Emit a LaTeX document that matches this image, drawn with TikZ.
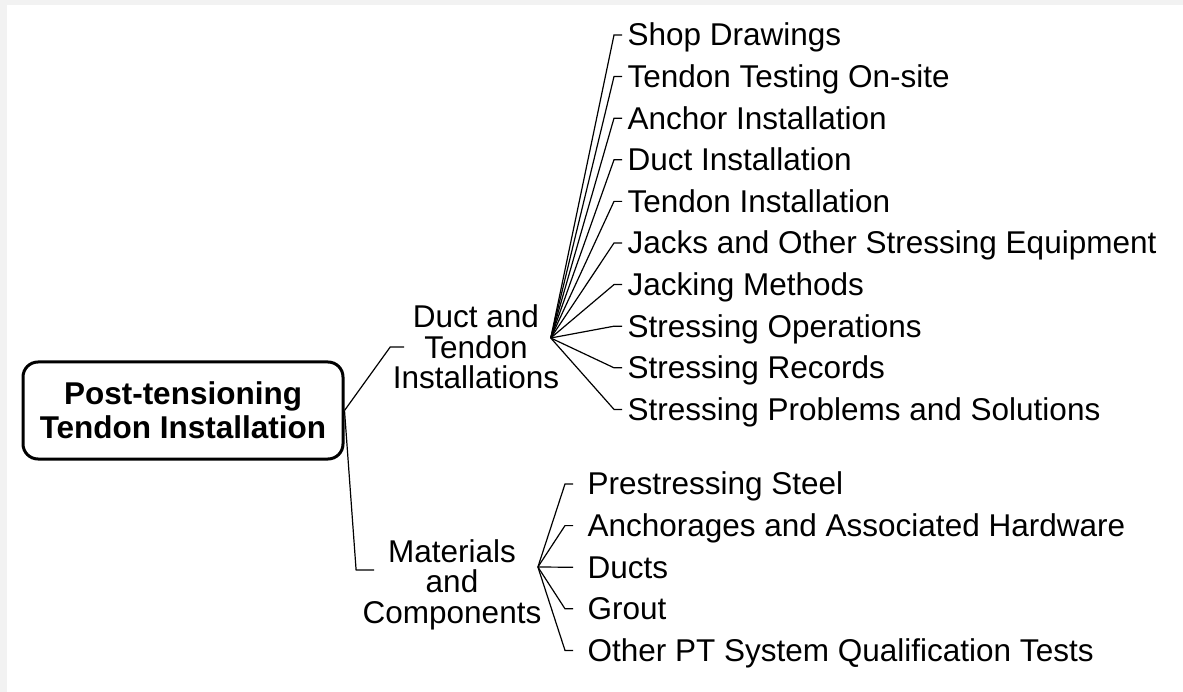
\documentclass[tikz,border=0pt]{standalone}
\usepackage{fontspec}
\setmainfont{Liberation Sans}
\usetikzlibrary{positioning}

\begin{document}
\begin{tikzpicture}[x=1pt,y=-1pt,node distance=41.6pt,line width=1.2pt]
        \tikzstyle{root}=[rectangle,rounded corners=15pt,draw,line width=3pt,minimum width=320pt,minimum height=97pt,align=center,font=\bfseries\fontsize{31.5}{34}\selectfont]
        \tikzstyle{branch}=[inner sep=0pt,align=center,font=\fontsize{31.5}{30.5}\selectfont]
        \tikzstyle{leaf}=[inner ysep=0pt,text height=21.7pt,text depth=0pt,font=\fontsize{31.5}{34}\selectfont]
        \tikzstyle{hook}=[to path={-- ([xshift=-8pt]\tikztotarget) -- (\tikztotarget)}]

        % page
        \fill [black!5] (0,0) rectangle (1183,692);
        \fill [white] (7,5) rectangle (1183,692);

        \node [root] (root) at (183,410.5) {Post-tensioning\\Tendon Installation};
        \node [branch] (dti) at (476,347) {Duct and\\Tendon\\Installations};
        \node [branch] (mac) at (452,584.7) {Materials\\and\\Components};

        % upper list
        \node [leaf, inner xsep=5pt, anchor=west] (d1) at (622,35) {Shop Drawings};
        \node [leaf, inner xsep=5pt] (d2) [below=of d1.west, anchor=west] {Tendon Testing On-site};
        \node [leaf, inner xsep=5pt] (d3) [below=of d2.west, anchor=west] {Anchor Installation};
        \node [leaf, inner xsep=5pt] (d4) [below=of d3.west, anchor=west] {Duct Installation};
        \node [leaf, inner xsep=5pt] (d5) [below=of d4.west, anchor=west] {Tendon Installation};
        \node [leaf, inner xsep=5pt] (d6) [below=of d5.west, anchor=west] {Jacks and Other Stressing Equipment};
        \node [leaf, inner xsep=5pt] (d7) [below=of d6.west, anchor=west] {Jacking Methods};
        \node [leaf, inner xsep=5pt] (d8) [below=of d7.west, anchor=west] {Stressing Operations};
        \node [leaf, inner xsep=5pt] (d9) [below=of d8.west, anchor=west] {Stressing Records};
        \node [leaf, inner xsep=5pt] (d10) [below=of d9.west, anchor=west] {Stressing Problems and Solutions};

        % lower list
        \node [leaf, inner xsep=14pt, anchor=west] (m1) at (573,484) {Prestressing Steel};
        \node [leaf, inner xsep=14pt] (m2) [below=of m1.west, anchor=west] {Anchorages and Associated Hardware};
        \node [leaf, inner xsep=14pt] (m3) [below=of m2.west, anchor=west] {Ducts};
        \node [leaf, inner xsep=14pt] (m4) [below=of m3.west, anchor=west] {Grout};
        \node [leaf, inner xsep=14pt] (m5) [below=of m4.west, anchor=west] {Other PT System Qualification Tests};

        \coordinate (dtfan) at ([xshift=-9pt,yshift=9pt]dti.east);
        \coordinate (macfan) at ([xshift=-4pt,yshift=17.7pt]mac.east);

        \draw (root.east) -- ([xshift=-2pt]dti.west) -- ([xshift=12pt]dti.west);
        \draw (root.east) -- ([xshift=-6pt,yshift=14.7pt]mac.west) -- ([xshift=12pt,yshift=14.7pt]mac.west);

        \draw (dtfan) to [hook] (d1.west);
        \draw (dtfan) to [hook] (d2.west);
        \draw (dtfan) to [hook] (d3.west);
        \draw (dtfan) to [hook] (d4.west);
        \draw (dtfan) to [hook] (d5.west);
        \draw (dtfan) to [hook] (d6.west);
        \draw (dtfan) to [hook] (d7.west);
        \draw (dtfan) to [hook] (d8.west);
        \draw (dtfan) to [hook] (d9.west);
        \draw (dtfan) to [hook] (d10.west);

        \draw (macfan) to [hook] (m1.west);
        \draw (macfan) to [hook] (m2.west);
        \draw (macfan) to [hook] (m3.west);
        \draw (macfan) to [hook] (m4.west);
        \draw (macfan) to [hook] (m5.west);
    \end{tikzpicture}
\end{document}
